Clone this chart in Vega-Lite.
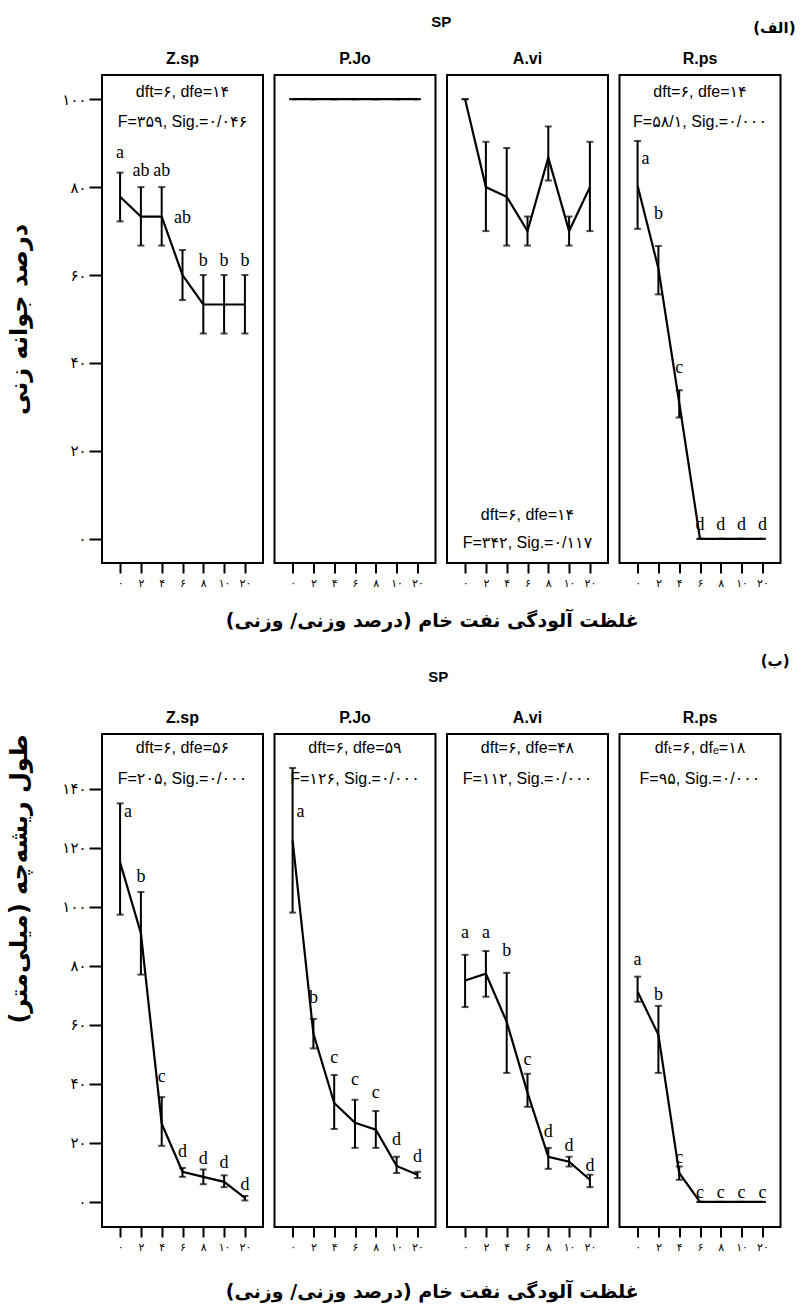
{
  "$schema": "https://vega.github.io/schema/vega-lite/v6.json",
  "padding": {"left": 6, "right": 0, "top": 15, "bottom": 4},
  "background": "white",
  "config": {
    "font": "Liberation Sans",
    "view": {"stroke": "black", "strokeWidth": 2},
    "axis": {"domain": false, "grid": false, "tickColor": "black", "tickWidth": 2, "labelColor": "black", "labelFont": "DejaVu Sans", "titleColor": "black"},
    "axisX": {"tickSize": 10, "labelFontSize": 11, "labelPadding": 4, "labelAngle": 0},
    "axisY": {"tickSize": 13, "labelFontSize": 15, "labelPadding": 3, "titleFont": "DejaVu Sans", "titleFontSize": 24, "titleFontWeight": "bold", "titlePadding": 30},
    "title": {"font": "Liberation Sans", "fontSize": 16, "fontWeight": "bold", "color": "black", "offset": 8}
  },
  "datasets": {
    "g": [
      {"sp": "Z.sp", "c": "۰", "v": 77.8, "lo": 72.2, "hi": 83.3, "lab": "a", "ly": 87.7},
      {"sp": "Z.sp", "c": "۲", "v": 73.3, "lo": 66.7, "hi": 80, "lab": "ab", "ly": 83.6},
      {"sp": "Z.sp", "c": "۴", "v": 73.3, "lo": 66.7, "hi": 80, "lab": "ab", "ly": 83.6},
      {"sp": "Z.sp", "c": "۶", "v": 60, "lo": 54.3, "hi": 65.7, "lab": "ab", "ly": 73},
      {"sp": "Z.sp", "c": "۸", "v": 53.3, "lo": 46.7, "hi": 60, "lab": "b", "ly": 63.2},
      {"sp": "Z.sp", "c": "۱۰", "v": 53.3, "lo": 46.7, "hi": 60, "lab": "b", "ly": 63.2},
      {"sp": "Z.sp", "c": "۲۰", "v": 53.3, "lo": 46.7, "hi": 60, "lab": "b", "ly": 63.2},
      {"sp": "P.Jo", "c": "۰", "v": 100, "lo": 100, "hi": 100},
      {"sp": "P.Jo", "c": "۲", "v": 100, "lo": 100, "hi": 100},
      {"sp": "P.Jo", "c": "۴", "v": 100, "lo": 100, "hi": 100},
      {"sp": "P.Jo", "c": "۶", "v": 100, "lo": 100, "hi": 100},
      {"sp": "P.Jo", "c": "۸", "v": 100, "lo": 100, "hi": 100},
      {"sp": "P.Jo", "c": "۱۰", "v": 100, "lo": 100, "hi": 100},
      {"sp": "P.Jo", "c": "۲۰", "v": 100, "lo": 100, "hi": 100},
      {"sp": "A.vi", "c": "۰", "v": 100, "lo": 100, "hi": 100},
      {"sp": "A.vi", "c": "۲", "v": 80, "lo": 70, "hi": 90.3},
      {"sp": "A.vi", "c": "۴", "v": 77.8, "lo": 66.7, "hi": 88.9},
      {"sp": "A.vi", "c": "۶", "v": 70, "lo": 66.7, "hi": 73.3},
      {"sp": "A.vi", "c": "۸", "v": 86.7, "lo": 81.5, "hi": 93.8},
      {"sp": "A.vi", "c": "۱۰", "v": 70, "lo": 66.7, "hi": 73.3},
      {"sp": "A.vi", "c": "۲۰", "v": 80, "lo": 70, "hi": 90.3},
      {"sp": "R.ps", "c": "۰", "v": 80.3, "lo": 70.5, "hi": 90.5, "lab": "a", "ly": 86.4},
      {"sp": "R.ps", "c": "۲", "v": 61.5, "lo": 55.6, "hi": 66.6, "lab": "b", "ly": 73.9},
      {"sp": "R.ps", "c": "۴", "v": 31, "lo": 27.6, "hi": 33.8, "lab": "c", "ly": 38.9},
      {"sp": "R.ps", "c": "۶", "v": 0, "lo": 0, "hi": 0, "lab": "d", "ly": 3.2},
      {"sp": "R.ps", "c": "۸", "v": 0, "lo": 0, "hi": 0, "lab": "d", "ly": 3.2},
      {"sp": "R.ps", "c": "۱۰", "v": 0, "lo": 0, "hi": 0, "lab": "d", "ly": 3.2},
      {"sp": "R.ps", "c": "۲۰", "v": 0, "lo": 0, "hi": 0, "lab": "d", "ly": 3.2}
    ],
    "r": [
      {"sp": "Z.sp", "c": "۰", "v": 115, "lo": 97.3, "hi": 135, "lab": "a", "ly": 132},
      {"sp": "Z.sp", "c": "۲", "v": 91, "lo": 77, "hi": 105, "lab": "b", "ly": 110},
      {"sp": "Z.sp", "c": "۴", "v": 26.5, "lo": 19, "hi": 35.5, "lab": "c", "ly": 42.4},
      {"sp": "Z.sp", "c": "۶", "v": 10.2, "lo": 8.5, "hi": 11.5, "lab": "d", "ly": 16.9},
      {"sp": "Z.sp", "c": "۸", "v": 8.5, "lo": 6, "hi": 11, "lab": "d", "ly": 14.5},
      {"sp": "Z.sp", "c": "۱۰", "v": 6.8, "lo": 5, "hi": 9, "lab": "d", "ly": 13.2},
      {"sp": "Z.sp", "c": "۲۰", "v": 1.4, "lo": 0.5, "hi": 2, "lab": "d", "ly": 5.8},
      {"sp": "P.Jo", "c": "۰", "v": 122.5, "lo": 98, "hi": 147, "lab": "a", "ly": 132},
      {"sp": "P.Jo", "c": "۲", "v": 57, "lo": 52, "hi": 62, "lab": "b", "ly": 69},
      {"sp": "P.Jo", "c": "۴", "v": 33.5, "lo": 24.7, "hi": 43, "lab": "c", "ly": 48.8},
      {"sp": "P.Jo", "c": "۶", "v": 26.8, "lo": 18.3, "hi": 34.6, "lab": "c", "ly": 41.3},
      {"sp": "P.Jo", "c": "۸", "v": 24.5, "lo": 18.3, "hi": 30.8, "lab": "c", "ly": 37},
      {"sp": "P.Jo", "c": "۱۰", "v": 12.2, "lo": 9.8, "hi": 15.3, "lab": "d", "ly": 21},
      {"sp": "P.Jo", "c": "۲۰", "v": 9.2, "lo": 8.1, "hi": 10.2, "lab": "d", "ly": 15.3},
      {"sp": "A.vi", "c": "۰", "v": 75, "lo": 66, "hi": 83.7, "lab": "a", "ly": 91},
      {"sp": "A.vi", "c": "۲", "v": 77.3, "lo": 69.5, "hi": 85, "lab": "a", "ly": 91},
      {"sp": "A.vi", "c": "۴", "v": 61, "lo": 43.7, "hi": 77.6, "lab": "b", "ly": 85},
      {"sp": "A.vi", "c": "۶", "v": 37, "lo": 32.2, "hi": 43.4, "lab": "c", "ly": 48},
      {"sp": "A.vi", "c": "۸", "v": 15.3, "lo": 11.2, "hi": 18.3, "lab": "d", "ly": 23.7},
      {"sp": "A.vi", "c": "۱۰", "v": 13.6, "lo": 12, "hi": 15.3, "lab": "d", "ly": 19},
      {"sp": "A.vi", "c": "۲۰", "v": 7.5, "lo": 5, "hi": 9.2, "lab": "d", "ly": 12},
      {"sp": "R.ps", "c": "۰", "v": 71.2, "lo": 67.8, "hi": 76.3, "lab": "a", "ly": 82},
      {"sp": "R.ps", "c": "۲", "v": 56.6, "lo": 43.7, "hi": 66.4, "lab": "b", "ly": 70},
      {"sp": "R.ps", "c": "۴", "v": 9.8, "lo": 7.5, "hi": 12, "lab": "c", "ly": 15},
      {"sp": "R.ps", "c": "۶", "v": 0, "lo": 0, "hi": 0, "lab": "c", "ly": 3},
      {"sp": "R.ps", "c": "۸", "v": 0, "lo": 0, "hi": 0, "lab": "c", "ly": 3},
      {"sp": "R.ps", "c": "۱۰", "v": 0, "lo": 0, "hi": 0, "lab": "c", "ly": 3},
      {"sp": "R.ps", "c": "۲۰", "v": 0, "lo": 0, "hi": 0, "lab": "c", "ly": 3}
    ],
    "ng": [
      {"sp": "Z.sp", "t": "dft=۶, dfe=۱۴", "ay": 101.6},
      {"sp": "Z.sp", "t": "F=۳۵۹, Sig.=۰/۰۴۶", "ay": 94.8},
      {"sp": "A.vi", "t": "dft=۶, dfe=۱۴", "ay": 5.5},
      {"sp": "A.vi", "t": "F=۳۴۲, Sig.=۰/۱۱۷", "ay": -0.9},
      {"sp": "R.ps", "t": "dft=۶, dfe=۱۴", "ay": 101.6},
      {"sp": "R.ps", "t": "F=۵۸/۱, Sig.=۰/۰۰۰", "ay": 94.8}
    ],
    "nr": [
      {"sp": "Z.sp", "t": "dft=۶, dfe=۵۶", "ay": 153.9},
      {"sp": "Z.sp", "t": "F=۲۰۵, Sig.=۰/۰۰۰", "ay": 143.1},
      {"sp": "P.Jo", "t": "dft=۶, dfe=۵۹", "ay": 153.9},
      {"sp": "P.Jo", "t": "F=۱۲۶, Sig.=۰/۰۰۰", "ay": 143.1},
      {"sp": "A.vi", "t": "dft=۶, dfe=۴۸", "ay": 153.9},
      {"sp": "A.vi", "t": "F=۱۱۲, Sig.=۰/۰۰۰", "ay": 143.1},
      {"sp": "R.ps", "t": "dfₜ=۶, dfₑ=۱۸", "ay": 153.9},
      {"sp": "R.ps", "t": "F=۹۵, Sig.=۰/۰۰۰", "ay": 143.1}
    ]
  },
  "vconcat": [
    {
      "title": {"text": "SP", "anchor": "middle", "fontSize": 15, "offset": -9, "frame": "bounds", "dx": 40},
      "vconcat": [
        {
          "title": {"text": "\u200f(الف)\u200f", "anchor": "end", "font": "DejaVu Sans", "fontSize": 15, "fontWeight": "bold", "dx": 14, "offset": 14},
          "vconcat": [
            {
              "title": {"text": "\u200fغلظت آلودگی نفت خام (درصد وزنی/ وزنی)\u200f", "orient": "bottom", "font": "DejaVu Sans", "fontSize": 19, "fontWeight": "bold", "offset": 23, "frame": "bounds", "dx": 219},
              "spacing": 9.5,
              "hconcat": [
                {
                  "width": 161, "height": 488, "title": "Z.sp",
                  "layer": [
                    {"data": {"name": "g"}, "transform": [{"filter": "datum.sp == 'Z.sp'"}],
                     "encoding": {"x": {"field": "c", "type": "nominal", "sort": ["۰","۲","۴","۶","۸","۱۰","۲۰"], "scale": {"type": "point", "padding": 0.87}, "title": null}},
                     "layer": [
                       {"mark": {"type": "line", "color": "black", "strokeWidth": 2.2}, "encoding": {"y": {"field": "v", "type": "quantitative", "scale": {"domain": [-5.5, 105.5], "nice": false, "zero": false}, "axis": {"values": [0,20,40,60,80,100], "title": "درصد جوانه زنی", "labelExpr": "replace(replace(replace(replace(replace(replace(datum.label,regexp('0','g'),'۰'),regexp('1','g'),'۱'),regexp('2','g'),'۲'),regexp('4','g'),'۴'),regexp('6','g'),'۶'),regexp('8','g'),'۸')"}}}},
                       {"mark": {"type": "rule", "color": "black", "strokeWidth": 2}, "encoding": {"y": {"field": "lo", "type": "quantitative"}, "y2": {"field": "hi"}}},
                       {"mark": {"type": "tick", "color": "black", "size": 7, "thickness": 2}, "encoding": {"y": {"field": "lo", "type": "quantitative"}}},
                       {"mark": {"type": "tick", "color": "black", "size": 7, "thickness": 2}, "encoding": {"y": {"field": "hi", "type": "quantitative"}}},
                       {"transform": [{"filter": "datum.lab && datum.ly >= datum.hi"}], "mark": {"type": "text", "font": "Liberation Serif", "fontSize": 18, "baseline": "middle", "color": "black"}, "encoding": {"y": {"field": "ly", "type": "quantitative"}, "text": {"field": "lab"}}},
                       {"transform": [{"filter": "datum.lab && datum.ly < datum.hi"}], "mark": {"type": "text", "font": "Liberation Serif", "fontSize": 18, "baseline": "middle", "align": "left", "dx": 4, "color": "black"}, "encoding": {"y": {"field": "ly", "type": "quantitative"}, "text": {"field": "lab"}}}
                     ]},
                    {"data": {"name": "ng"}, "transform": [{"filter": "datum.sp == 'Z.sp'"}],
                     "mark": {"type": "text", "font": "Liberation Sans, DejaVu Sans", "fontSize": 16, "baseline": "middle", "color": "black"},
                     "encoding": {"x": {"datum": "۶", "type": "nominal"}, "y": {"field": "ay", "type": "quantitative"}, "text": {"field": "t"}}}
                  ]
                },
                {
                  "width": 161, "height": 488, "title": "P.Jo",
                  "layer": [
                    {"data": {"name": "g"}, "transform": [{"filter": "datum.sp == 'P.Jo'"}],
                     "encoding": {"x": {"field": "c", "type": "nominal", "sort": ["۰","۲","۴","۶","۸","۱۰","۲۰"], "scale": {"type": "point", "padding": 0.87}, "title": null}},
                     "layer": [
                       {"mark": {"type": "line", "color": "black", "strokeWidth": 2.2}, "encoding": {"y": {"field": "v", "type": "quantitative", "scale": {"domain": [-5.5, 105.5], "nice": false, "zero": false}, "axis": null}}},
                       {"mark": {"type": "rule", "color": "black", "strokeWidth": 2}, "encoding": {"y": {"field": "lo", "type": "quantitative", "axis": null}, "y2": {"field": "hi"}}},
                       {"mark": {"type": "tick", "color": "black", "size": 7, "thickness": 2}, "encoding": {"y": {"field": "lo", "type": "quantitative", "axis": null}}},
                       {"mark": {"type": "tick", "color": "black", "size": 7, "thickness": 2}, "encoding": {"y": {"field": "hi", "type": "quantitative", "axis": null}}}
                     ]}
                  ]
                },
                {
                  "width": 161, "height": 488, "title": "A.vi",
                  "layer": [
                    {"data": {"name": "g"}, "transform": [{"filter": "datum.sp == 'A.vi'"}],
                     "encoding": {"x": {"field": "c", "type": "nominal", "sort": ["۰","۲","۴","۶","۸","۱۰","۲۰"], "scale": {"type": "point", "padding": 0.87}, "title": null}},
                     "layer": [
                       {"mark": {"type": "line", "color": "black", "strokeWidth": 2.2}, "encoding": {"y": {"field": "v", "type": "quantitative", "scale": {"domain": [-5.5, 105.5], "nice": false, "zero": false}, "axis": null}}},
                       {"mark": {"type": "rule", "color": "black", "strokeWidth": 2}, "encoding": {"y": {"field": "lo", "type": "quantitative", "axis": null}, "y2": {"field": "hi"}}},
                       {"mark": {"type": "tick", "color": "black", "size": 7, "thickness": 2}, "encoding": {"y": {"field": "lo", "type": "quantitative", "axis": null}}},
                       {"mark": {"type": "tick", "color": "black", "size": 7, "thickness": 2}, "encoding": {"y": {"field": "hi", "type": "quantitative", "axis": null}}}
                     ]},
                    {"data": {"name": "ng"}, "transform": [{"filter": "datum.sp == 'A.vi'"}],
                     "mark": {"type": "text", "font": "Liberation Sans, DejaVu Sans", "fontSize": 16, "baseline": "middle", "color": "black"},
                     "encoding": {"x": {"datum": "۶", "type": "nominal"}, "y": {"field": "ay", "type": "quantitative", "axis": null}, "text": {"field": "t"}}}
                  ]
                },
                {
                  "width": 161, "height": 488, "title": "R.ps",
                  "layer": [
                    {"data": {"name": "g"}, "transform": [{"filter": "datum.sp == 'R.ps'"}],
                     "encoding": {"x": {"field": "c", "type": "nominal", "sort": ["۰","۲","۴","۶","۸","۱۰","۲۰"], "scale": {"type": "point", "padding": 0.87}, "title": null}},
                     "layer": [
                       {"mark": {"type": "line", "color": "black", "strokeWidth": 2.2}, "encoding": {"y": {"field": "v", "type": "quantitative", "scale": {"domain": [-5.5, 105.5], "nice": false, "zero": false}, "axis": null}}},
                       {"mark": {"type": "rule", "color": "black", "strokeWidth": 2}, "encoding": {"y": {"field": "lo", "type": "quantitative", "axis": null}, "y2": {"field": "hi"}}},
                       {"mark": {"type": "tick", "color": "black", "size": 7, "thickness": 2}, "encoding": {"y": {"field": "lo", "type": "quantitative", "axis": null}}},
                       {"mark": {"type": "tick", "color": "black", "size": 7, "thickness": 2}, "encoding": {"y": {"field": "hi", "type": "quantitative", "axis": null}}},
                       {"transform": [{"filter": "datum.lab && datum.ly >= datum.hi"}], "mark": {"type": "text", "font": "Liberation Serif", "fontSize": 18, "baseline": "middle", "color": "black"}, "encoding": {"y": {"field": "ly", "type": "quantitative", "axis": null}, "text": {"field": "lab"}}},
                       {"transform": [{"filter": "datum.lab && datum.ly < datum.hi"}], "mark": {"type": "text", "font": "Liberation Serif", "fontSize": 18, "baseline": "middle", "align": "left", "dx": 4, "color": "black"}, "encoding": {"y": {"field": "ly", "type": "quantitative", "axis": null}, "text": {"field": "lab"}}}
                     ]},
                    {"data": {"name": "ng"}, "transform": [{"filter": "datum.sp == 'R.ps'"}],
                     "mark": {"type": "text", "font": "Liberation Sans, DejaVu Sans", "fontSize": 16, "baseline": "middle", "color": "black"},
                     "encoding": {"x": {"datum": "۶", "type": "nominal"}, "y": {"field": "ay", "type": "quantitative", "axis": null}, "text": {"field": "t"}}}
                  ]
                }
              ]
            }
          ]
        }
      ]
    },
    {
      "title": {"text": "\u200f(ب)\u200f", "anchor": "end", "font": "DejaVu Sans", "fontSize": 15, "fontWeight": "bold", "dx": 8, "offset": 1},
      "vconcat": [
        {
          "title": {"text": "SP", "anchor": "middle", "fontSize": 15, "offset": 24, "frame": "bounds", "dx": 44},
          "vconcat": [
            {
              "title": {"text": "\u200fغلظت آلودگی نفت خام (درصد وزنی/ وزنی)\u200f", "orient": "bottom", "font": "DejaVu Sans", "fontSize": 19, "fontWeight": "bold", "offset": 30, "frame": "bounds", "dx": 219},
              "spacing": 9.5,
              "hconcat": [
                {
                  "width": 161, "height": 493, "title": "Z.sp",
                  "layer": [
                    {"data": {"name": "r"}, "transform": [{"filter": "datum.sp == 'Z.sp'"}],
                     "encoding": {"x": {"field": "c", "type": "nominal", "sort": ["۰","۲","۴","۶","۸","۱۰","۲۰"], "scale": {"type": "point", "padding": 0.87}, "title": null}},
                     "layer": [
                       {"mark": {"type": "line", "color": "black", "strokeWidth": 2.2}, "encoding": {"y": {"field": "v", "type": "quantitative", "scale": {"domain": [-8.5, 158.5], "nice": false, "zero": false}, "axis": {"values": [0,20,40,60,80,100,120,140], "title": "\u200fطول ریشه‌چه (میلی‌متر)\u200f", "titleAnchor": "end", "labelExpr": "replace(replace(replace(replace(replace(replace(datum.label,regexp('0','g'),'۰'),regexp('1','g'),'۱'),regexp('2','g'),'۲'),regexp('4','g'),'۴'),regexp('6','g'),'۶'),regexp('8','g'),'۸')"}}}},
                       {"mark": {"type": "rule", "color": "black", "strokeWidth": 2}, "encoding": {"y": {"field": "lo", "type": "quantitative"}, "y2": {"field": "hi"}}},
                       {"mark": {"type": "tick", "color": "black", "size": 7, "thickness": 2}, "encoding": {"y": {"field": "lo", "type": "quantitative"}}},
                       {"mark": {"type": "tick", "color": "black", "size": 7, "thickness": 2}, "encoding": {"y": {"field": "hi", "type": "quantitative"}}},
                       {"transform": [{"filter": "datum.lab && datum.ly >= datum.hi"}], "mark": {"type": "text", "font": "Liberation Serif", "fontSize": 18, "baseline": "middle", "color": "black"}, "encoding": {"y": {"field": "ly", "type": "quantitative"}, "text": {"field": "lab"}}},
                       {"transform": [{"filter": "datum.lab && datum.ly < datum.hi"}], "mark": {"type": "text", "font": "Liberation Serif", "fontSize": 18, "baseline": "middle", "align": "left", "dx": 4, "color": "black"}, "encoding": {"y": {"field": "ly", "type": "quantitative"}, "text": {"field": "lab"}}}
                     ]},
                    {"data": {"name": "nr"}, "transform": [{"filter": "datum.sp == 'Z.sp'"}],
                     "mark": {"type": "text", "font": "Liberation Sans, DejaVu Sans", "fontSize": 16, "baseline": "middle", "color": "black"},
                     "encoding": {"x": {"datum": "۶", "type": "nominal"}, "y": {"field": "ay", "type": "quantitative"}, "text": {"field": "t"}}}
                  ]
                },
                {
                  "width": 161, "height": 493, "title": "P.Jo",
                  "layer": [
                    {"data": {"name": "r"}, "transform": [{"filter": "datum.sp == 'P.Jo'"}],
                     "encoding": {"x": {"field": "c", "type": "nominal", "sort": ["۰","۲","۴","۶","۸","۱۰","۲۰"], "scale": {"type": "point", "padding": 0.87}, "title": null}},
                     "layer": [
                       {"mark": {"type": "line", "color": "black", "strokeWidth": 2.2}, "encoding": {"y": {"field": "v", "type": "quantitative", "scale": {"domain": [-8.5, 158.5], "nice": false, "zero": false}, "axis": null}}},
                       {"mark": {"type": "rule", "color": "black", "strokeWidth": 2}, "encoding": {"y": {"field": "lo", "type": "quantitative", "axis": null}, "y2": {"field": "hi"}}},
                       {"mark": {"type": "tick", "color": "black", "size": 7, "thickness": 2}, "encoding": {"y": {"field": "lo", "type": "quantitative", "axis": null}}},
                       {"mark": {"type": "tick", "color": "black", "size": 7, "thickness": 2}, "encoding": {"y": {"field": "hi", "type": "quantitative", "axis": null}}},
                       {"transform": [{"filter": "datum.lab && datum.ly >= datum.hi"}], "mark": {"type": "text", "font": "Liberation Serif", "fontSize": 18, "baseline": "middle", "color": "black"}, "encoding": {"y": {"field": "ly", "type": "quantitative", "axis": null}, "text": {"field": "lab"}}},
                       {"transform": [{"filter": "datum.lab && datum.ly < datum.hi"}], "mark": {"type": "text", "font": "Liberation Serif", "fontSize": 18, "baseline": "middle", "align": "left", "dx": 4, "color": "black"}, "encoding": {"y": {"field": "ly", "type": "quantitative", "axis": null}, "text": {"field": "lab"}}}
                     ]},
                    {"data": {"name": "nr"}, "transform": [{"filter": "datum.sp == 'P.Jo'"}],
                     "mark": {"type": "text", "font": "Liberation Sans, DejaVu Sans", "fontSize": 16, "baseline": "middle", "color": "black"},
                     "encoding": {"x": {"datum": "۶", "type": "nominal"}, "y": {"field": "ay", "type": "quantitative", "axis": null}, "text": {"field": "t"}}}
                  ]
                },
                {
                  "width": 161, "height": 493, "title": "A.vi",
                  "layer": [
                    {"data": {"name": "r"}, "transform": [{"filter": "datum.sp == 'A.vi'"}],
                     "encoding": {"x": {"field": "c", "type": "nominal", "sort": ["۰","۲","۴","۶","۸","۱۰","۲۰"], "scale": {"type": "point", "padding": 0.87}, "title": null}},
                     "layer": [
                       {"mark": {"type": "line", "color": "black", "strokeWidth": 2.2}, "encoding": {"y": {"field": "v", "type": "quantitative", "scale": {"domain": [-8.5, 158.5], "nice": false, "zero": false}, "axis": null}}},
                       {"mark": {"type": "rule", "color": "black", "strokeWidth": 2}, "encoding": {"y": {"field": "lo", "type": "quantitative", "axis": null}, "y2": {"field": "hi"}}},
                       {"mark": {"type": "tick", "color": "black", "size": 7, "thickness": 2}, "encoding": {"y": {"field": "lo", "type": "quantitative", "axis": null}}},
                       {"mark": {"type": "tick", "color": "black", "size": 7, "thickness": 2}, "encoding": {"y": {"field": "hi", "type": "quantitative", "axis": null}}},
                       {"transform": [{"filter": "datum.lab && datum.ly >= datum.hi"}], "mark": {"type": "text", "font": "Liberation Serif", "fontSize": 18, "baseline": "middle", "color": "black"}, "encoding": {"y": {"field": "ly", "type": "quantitative", "axis": null}, "text": {"field": "lab"}}},
                       {"transform": [{"filter": "datum.lab && datum.ly < datum.hi"}], "mark": {"type": "text", "font": "Liberation Serif", "fontSize": 18, "baseline": "middle", "align": "left", "dx": 4, "color": "black"}, "encoding": {"y": {"field": "ly", "type": "quantitative", "axis": null}, "text": {"field": "lab"}}}
                     ]},
                    {"data": {"name": "nr"}, "transform": [{"filter": "datum.sp == 'A.vi'"}],
                     "mark": {"type": "text", "font": "Liberation Sans, DejaVu Sans", "fontSize": 16, "baseline": "middle", "color": "black"},
                     "encoding": {"x": {"datum": "۶", "type": "nominal"}, "y": {"field": "ay", "type": "quantitative", "axis": null}, "text": {"field": "t"}}}
                  ]
                },
                {
                  "width": 161, "height": 493, "title": "R.ps",
                  "layer": [
                    {"data": {"name": "r"}, "transform": [{"filter": "datum.sp == 'R.ps'"}],
                     "encoding": {"x": {"field": "c", "type": "nominal", "sort": ["۰","۲","۴","۶","۸","۱۰","۲۰"], "scale": {"type": "point", "padding": 0.87}, "title": null}},
                     "layer": [
                       {"mark": {"type": "line", "color": "black", "strokeWidth": 2.2}, "encoding": {"y": {"field": "v", "type": "quantitative", "scale": {"domain": [-8.5, 158.5], "nice": false, "zero": false}, "axis": null}}},
                       {"mark": {"type": "rule", "color": "black", "strokeWidth": 2}, "encoding": {"y": {"field": "lo", "type": "quantitative", "axis": null}, "y2": {"field": "hi"}}},
                       {"mark": {"type": "tick", "color": "black", "size": 7, "thickness": 2}, "encoding": {"y": {"field": "lo", "type": "quantitative", "axis": null}}},
                       {"mark": {"type": "tick", "color": "black", "size": 7, "thickness": 2}, "encoding": {"y": {"field": "hi", "type": "quantitative", "axis": null}}},
                       {"transform": [{"filter": "datum.lab && datum.ly >= datum.hi"}], "mark": {"type": "text", "font": "Liberation Serif", "fontSize": 18, "baseline": "middle", "color": "black"}, "encoding": {"y": {"field": "ly", "type": "quantitative", "axis": null}, "text": {"field": "lab"}}},
                       {"transform": [{"filter": "datum.lab && datum.ly < datum.hi"}], "mark": {"type": "text", "font": "Liberation Serif", "fontSize": 18, "baseline": "middle", "align": "left", "dx": 4, "color": "black"}, "encoding": {"y": {"field": "ly", "type": "quantitative", "axis": null}, "text": {"field": "lab"}}}
                     ]},
                    {"data": {"name": "nr"}, "transform": [{"filter": "datum.sp == 'R.ps'"}],
                     "mark": {"type": "text", "font": "Liberation Sans, DejaVu Sans", "fontSize": 16, "baseline": "middle", "color": "black"},
                     "encoding": {"x": {"datum": "۶", "type": "nominal"}, "y": {"field": "ay", "type": "quantitative", "axis": null}, "text": {"field": "t"}}}
                  ]
                }
              ]
            }
          ]
        }
      ]
    }
  ],
  "spacing": 23
}
